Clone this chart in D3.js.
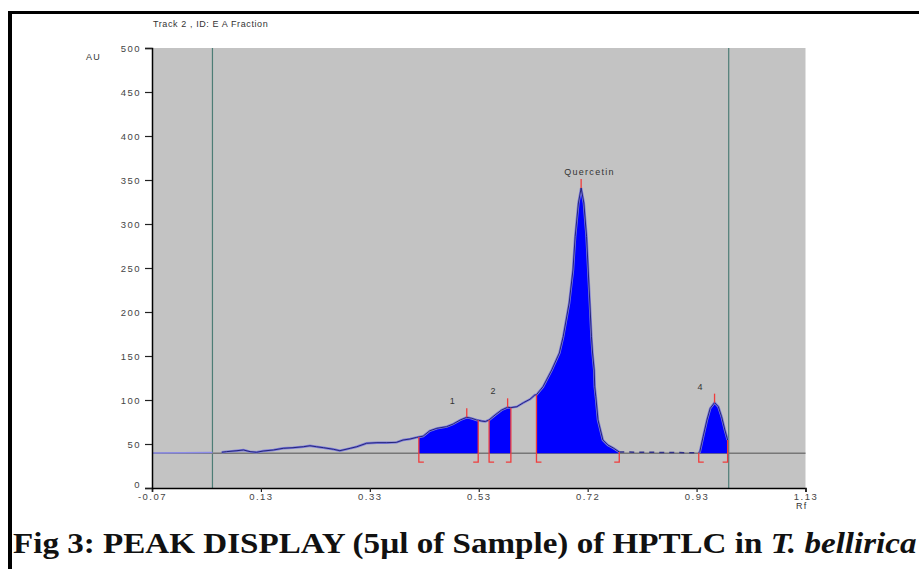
<!DOCTYPE html>
<html>
<head>
<meta charset="utf-8">
<script src="https://cdn.jsdelivr.net/npm/d3@7"></script>
<style>
  html, body { margin: 0; padding: 0; background: #fff; }
  svg { display: block; }
  .lbl { font-family: "Liberation Sans", Arial, sans-serif; font-size: 9px; fill: #333; letter-spacing: 1.3px; }
  .axis text { font-family: "Liberation Sans", Arial, sans-serif; font-size: 9.5px; fill: #444; letter-spacing: 1.5px; }
  .caption { font-family: "Liberation Serif", "Times New Roman", serif; font-weight: bold; font-size: 29px; fill: #111; }
</style>
</head>
<body>
<div id="chart"></div>
<script>
// ── Data ───────────────────────────────────────────────────────────────────
const xTicks      = [-0.07, 0.13, 0.33, 0.53, 0.73, 0.93, 1.13];
const xTickLabels = ["-0.07", "0.13", "0.33", "0.53", "0.72", "0.93", "1.13"];
const yTicks      = [0, 50, 100, 150, 200, 250, 300, 350, 400, 450, 500];

// lead-in before the start line (drawn faint)
const leadRf = [-0.07, 0.041];
const leadAU = [39.8, 40.2];

// scanned trace, start of track to end of the Quercetin peak
const traceRf = [0.058, 0.067, 0.086, 0.098, 0.110, 0.122, 0.134, 0.153, 0.171, 0.189,
  0.208, 0.220, 0.232, 0.245, 0.263, 0.275, 0.294, 0.306, 0.324, 0.343,
  0.361, 0.379, 0.391, 0.404, 0.416, 0.420, 0.428, 0.440, 0.453, 0.471,
  0.483, 0.496, 0.508, 0.517, 0.526, 0.529, 0.535, 0.542, 0.549, 0.560,
  0.572, 0.583, 0.589, 0.600, 0.612, 0.624, 0.633, 0.636, 0.648, 0.664,
  0.678, 0.685, 0.696, 0.703, 0.707, 0.713, 0.718, 0.723, 0.728, 0.731,
  0.734, 0.737, 0.739, 0.742, 0.743, 0.745, 0.749, 0.758, 0.767, 0.777, 0.788];
const traceAU = [40.6, 41.3, 42.4, 43.2, 41.3, 40.6, 42.0, 43.2, 45.1, 45.8,
  46.9, 48.0, 46.9, 45.8, 44.0, 42.4, 45.1, 46.9, 50.8, 51.5,
  51.5, 51.9, 54.5, 55.7, 57.5, 58.0, 59.0, 65.0, 67.8, 69.7,
  72.7, 77.3, 80.3, 79.2, 77.3, 77.0, 76.1, 75.5, 77.3, 83.0,
  88.6, 91.7, 91.3, 92.4, 96.9, 100.8, 105.7, 106.0, 115.1, 134.1,
  153.4, 171.9, 210.2, 247.7, 285.6, 323.9, 340.9, 323.9, 285.6, 247.7,
  210.2, 171.9, 153.4, 134.1, 115.1, 103.7, 77.3, 54.5, 48.9, 45.5, 40.9];

// peak 4 near the solvent front
const tailRf = [0.934, 0.936, 0.942, 0.949, 0.955, 0.963, 0.970, 0.976, 0.982, 0.987];
const tailAU = [40.0, 41.3, 58.3, 77.3, 90.5, 97.0, 92.4, 81.0, 65.9, 54.5];

const peakNames = ["1", "2", "Quercetin", "4"];
const peakStart = [0.420, 0.549, 0.636, 0.934];
const peakApex  = [0.508, 0.583, 0.718, 0.963];
const peakEnd   = [0.529, 0.589, 0.788, 0.987];

const baselineAU = 39.5;
const startLine = 0.041, frontLine = 0.989;

// ── Layout ─────────────────────────────────────────────────────────────────
const W = 919, H = 569;
const PLOT = { left: 152, right: 805.5, top: 48, bottom: 488 };

const svg = d3.select("#chart").append("svg").attr("width", W).attr("height", H);

const x = d3.scaleLinear().domain([-0.07, 1.13]).range([PLOT.left, PLOT.right]);
const y = d3.scaleLinear().domain([0, 500]).range([PLOT.bottom, PLOT.top]);

// frame
svg.append("rect").attr("x", 8).attr("y", 11).attr("width", 4).attr("height", H - 11).attr("fill", "#000");
svg.append("rect").attr("x", 8).attr("y", 11).attr("width", W - 8).attr("height", 3).attr("fill", "#000");

// plot background
svg.append("rect")
  .attr("x", PLOT.left).attr("y", PLOT.top)
  .attr("width", PLOT.right - PLOT.left).attr("height", PLOT.bottom - PLOT.top)
  .attr("fill", "#c3c3c3");

// start / front lines
[startLine, frontLine].forEach(v => {
  svg.append("line")
    .attr("x1", x(v)).attr("x2", x(v)).attr("y1", PLOT.top).attr("y2", PLOT.bottom)
    .attr("stroke", "#4d7d76").attr("stroke-width", 1.2);
});

// baseline
svg.append("line")
  .attr("x1", PLOT.left).attr("x2", PLOT.right)
  .attr("y1", y(baselineAU)).attr("y2", y(baselineAU))
  .attr("stroke", "#777").attr("stroke-width", 1.3);

// ── Trace ──────────────────────────────────────────────────────────────────
const zip = (a, b) => a.map((v, i) => ({ rf: v, au: b[i] }));
const lead = zip(leadRf, leadAU);
const trace = zip(traceRf, traceAU);
const tail = zip(tailRf, tailAU);
const all = trace.concat(tail);

const line = d3.line().x(d => x(d.rf)).y(d => y(d.au));
const area = d3.area().x(d => x(d.rf)).y0(y(baselineAU)).y1(d => y(d.au));

// peak fills
peakNames.forEach((name, i) => {
  const pts = all.filter(d => d.rf >= peakStart[i] - 1e-9 && d.rf <= peakEnd[i] + 1e-9);
  svg.append("path").datum(pts).attr("d", area).attr("fill", "#0000ff");
});

svg.append("path").datum(lead).attr("d", line)
  .attr("fill", "none").attr("stroke", "#8c8ce8").attr("stroke-width", 1.5);

[trace, tail].forEach(seg => {
  svg.append("path").datum(seg).attr("d", line)
    .attr("fill", "none").attr("stroke", "#7b7bdc").attr("stroke-width", 2.4);
  svg.append("path").datum(seg).attr("d", line)
    .attr("fill", "none").attr("stroke", "#24247a").attr("stroke-width", 1);
});

// dashed stretch between the Quercetin peak and peak 4
svg.append("path").datum([trace[trace.length - 1], tail[0]]).attr("d", line)
  .attr("fill", "none").attr("stroke", "#30308a").attr("stroke-width", 1.5)
  .attr("stroke-dasharray", "5,5");

// ── Peak markers ───────────────────────────────────────────────────────────
const auAt = rf => {
  const i = all.findIndex(d => d.rf >= rf - 1e-9);
  return all[i].au;
};
const red = "#f03c3c";
const markBottom = y(29.5);

peakNames.forEach((name, i) => {
  const xs = x(peakStart[i]), xe = x(peakEnd[i]), xa = x(peakApex[i]);
  svg.append("path")
    .attr("d", `M${xs},${y(auAt(peakStart[i]))}V${markBottom}h5`)
    .attr("fill", "none").attr("stroke", red).attr("stroke-width", 1.3);
  svg.append("path")
    .attr("d", `M${xe},${y(auAt(peakEnd[i]))}V${markBottom}h-5`)
    .attr("fill", "none").attr("stroke", red).attr("stroke-width", 1.3);
  const top = y(auAt(peakApex[i])) - 9;
  svg.append("line")
    .attr("x1", xa).attr("x2", xa).attr("y1", y(auAt(peakApex[i]))).attr("y2", top)
    .attr("stroke", red).attr("stroke-width", 1.3);
  svg.append("text").attr("class", "lbl")
    .attr("x", xa - 17).attr("y", top - 4)
    .text(name);
});

// ── Axes ───────────────────────────────────────────────────────────────────
const xAxis = svg.append("g").attr("class", "axis")
  .attr("transform", `translate(0,${PLOT.bottom})`)
  .call(d3.axisBottom(x).tickValues(xTicks).tickSize(4).tickPadding(1)
    .tickFormat((d, i) => xTickLabels[i]));
const yAxis = svg.append("g").attr("class", "axis")
  .attr("transform", `translate(${PLOT.left},0)`)
  .call(d3.axisLeft(y).tickValues(yTicks).tickSize(7).tickPadding(4));

[xAxis, yAxis].forEach(g => {
  g.select(".domain").attr("stroke", "#000").attr("stroke-width", 1.5);
  g.selectAll(".tick line").attr("stroke", "#222").attr("stroke-width", 1.2);
});
// lift the "0" label clear of the first Rf label
yAxis.selectAll(".tick").filter(d => d === 0).select("text").attr("dy", "-0.05em");

svg.append("text").attr("class", "lbl").attr("x", 86).attr("y", 60).text("AU");
svg.append("text").attr("class", "lbl").attr("x", 796).attr("y", 509).text("Rf");
svg.append("text").attr("class", "lbl").attr("x", 153).attr("y", 27)
  .style("letter-spacing", "0.6px")
  .text("Track  2 , ID: E A Fraction");

// ── Caption ────────────────────────────────────────────────────────────────
const cap = svg.append("text").attr("class", "caption").attr("x", 0).attr("y", 0);
cap.append("tspan").text("Fig 3: PEAK DISPLAY (5µl of Sample) of HPTLC in ");
cap.append("tspan").style("font-style", "italic").text("T. bellirica");
const capW = cap.node().getComputedTextLength();
cap.attr("transform", `translate(13,553) scale(${904 / capW},1)`);
</script>
</body>
</html>
